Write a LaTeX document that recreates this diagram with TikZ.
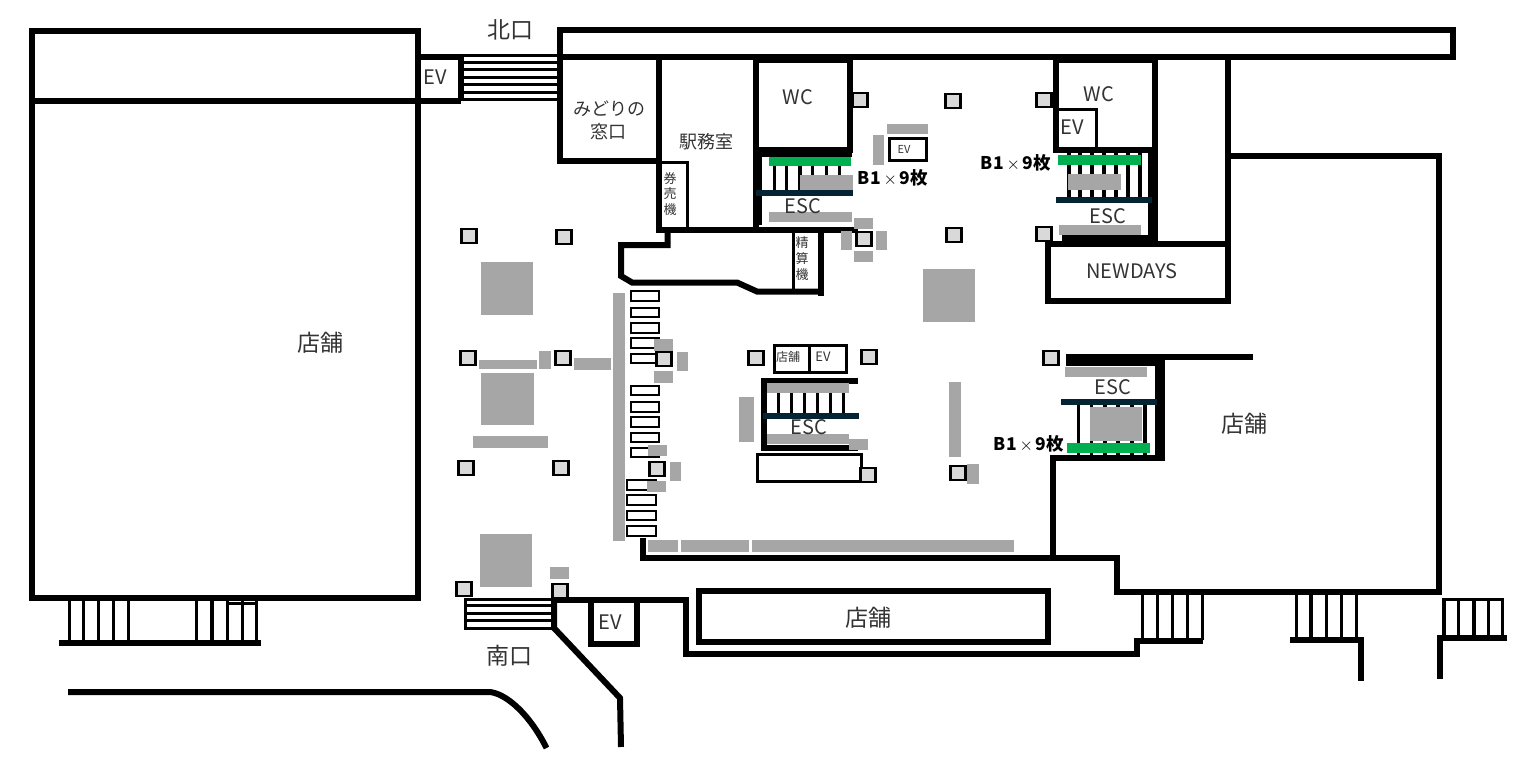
\documentclass[tikz,border=0pt]{standalone}
\usepackage{fontspec}
\setmainfont{Noto Sans CJK JP}
\definecolor{navy}{HTML}{042433}
\definecolor{greenbar}{HTML}{00B050}
\definecolor{block}{HTML}{A6A6A6}
\definecolor{pillargrey}{HTML}{D9D9D9}
\tikzset{
wall/.style={draw=black, line width=6pt},
thinwall/.style={draw=black, line width=3pt},
tread/.style={draw=black, line width=3.2pt},
greyblock/.style={fill=block},
pillar/.style={draw=black, fill=pillargrey, line width=2.7pt},
gate/.style={draw=black, fill=white, line width=2.4pt},
label/.style={text=black!80, inner sep=0pt, font=\fontsize{18}{18}\selectfont},
latinlabel/.style={label, font=\fontsize{20}{20}\selectfont},
biglabel/.style={label, font=\fontsize{23}{23}\selectfont},
tinylabel/.style={label, font=\fontsize{13}{13}\selectfont},
countlabel/.style={text=black, inner sep=0pt, font=\bfseries\fontsize{17.5}{17.5}\selectfont}
}
\begin{document}
\begin{tikzpicture}[x=1pt,y=-1pt]
\useasboundingbox (0,0) rectangle (1520,760);

% north side
\path[wall] (32,31) rectangle (418,598);
\path[wall] (32,101) -- (461,101);
\foreach \y in {55.5,62.5,70,77.5,84.7,92,99.3}{
\path[thinwall] (461,\y) -- (560,\y);
}
\path[wall] (418,57) -- (461,57) -- (461,101);
\path[wall] (560,30) rectangle (1453,57);
\path[wall] (560,57) -- (560,161) -- (659,161);
\path[wall] (659,57) -- (659,233);
\path[wall] (756,57) -- (756,230);
\path[wall] (1228,57) -- (1228,300);
\path[wall] (1228,156) -- (1438.5,156) -- (1438.5,591.5) -- (1117,591.5) -- (1117,557.5) -- (642.5,557.5) -- (642.5,538);

% ticket room
\path[thinwall] (659,162.5) -- (687.5,162.5) -- (687.5,230);
\path[wall] (657,230) -- (858,230);
\path[wall] (667.5,232) -- (667.5,245) -- (621,245) -- (621,276) -- (632,282.5) -- (737,282.5) -- (757,291.5) -- (820.5,291.5);
\path[wall] (820.5,232) -- (820.5,296);
\path[thinwall] (793,232) -- (793,291);

% WC left
\path[wall] (756,60.5) rectangle (849.5,150);
\path[fill=black] (753,147) rectangle (852,157);
\path[fill=black] (755,150) rectangle (762,225);
\foreach \x in {774.3,786.7,800,812.7,826.7,839.3}{
\path[tread] (\x,157) -- (\x,191);
}
\path[fill=greenbar] (769,157) rectangle (851,166);
\path[greyblock] (800,175) rectangle (853,190);
\path[fill=navy] (756,190) rectangle (853,196);
\path[greyblock] (769,212) rectangle (852,222);

% WC right
\path[wall] (1056,60) rectangle (1155,150);
\path[thinwall] (1056,109.5) -- (1096.5,109.5) -- (1096.5,150);
\foreach \x in {1069,1080,1092,1104,1116,1128,1140}{
\path[tread] (\x,150) -- (\x,197);
}
\path[fill=greenbar] (1058,155) rectangle (1141,165);
\path[greyblock] (1068,174) rectangle (1121,190);
\path[fill=black] (1148,150) rectangle (1158,241);
\path[fill=navy] (1056,197) rectangle (1152,203);
\path[greyblock] (1059,225) rectangle (1141,235);
\path[fill=black] (1062,235) rectangle (1152,241);
\path[wall] (1048,244) rectangle (1228,300.5);

% escalator right
\path[fill=black] (1066,354) rectangle (1160,366);
\path[wall] (1160,357) -- (1253,357);
\path[fill=black] (1155,354) rectangle (1165,460);
\path[wall] (1165,457.5) -- (1052.5,457.5) -- (1052.5,557);
\foreach \x in {1078.7,1091.7,1105,1118,1132,1145}{
\path[tread] (\x,405) -- (\x,455);
}
\path[greyblock] (1065,367) rectangle (1147,377);
\path[fill=navy] (1061,399) rectangle (1157,405);
\path[greyblock] (1090,407) rectangle (1142,441);
\path[fill=greenbar] (1067,443) rectangle (1150,453);

% escalator centre
\path[wall] (858,381) -- (764,381) -- (764,448) -- (858,448);
\foreach \x in {778.3,791.7,804.3,817.3,830.7,843.3}{
\path[tread] (\x,385) -- (\x,413);
}
\path[fill=navy] (763,413) rectangle (859,419);
\path[thinwall] (757.5,454.5) rectangle (861,481);
\path[thinwall] (774.5,345.5) rectangle (846,372);
\path[thinwall] (809.5,345.5) -- (809.5,372);
\path[thinwall] (889.5,138.5) rectangle (926.5,160);

% gates
\foreach \a/\b in {290/302,307/318,322/334,337/349,353/364,385/396,401/413,416/428,432/443,447/458}{
\path[gate] (631.2,\a+1) rectangle (659,\b-1);
}
\foreach \a/\b in {479/491,494/506,510/521,525/537}{
\path[gate] (627.2,\a+1) rectangle (656,\b-1);
}

% grey
\foreach \a/\b/\c/\d in {481/262/533/315,481/373/534/425,480/534/532/587,923/269/975/322,
479/360/537/369,539/351/551/369,574/358/611/370,473/436/548/448,613/293/625/541,
654/339/673/351,677/352/688/371,654/371/673/383,648/445/667/456,670/462/681/481,647/481/666/492,
739/397/754/442,767/383/849/393,767/434/849/444,849/439/868/450,
648/540/678/552,681/540/749/552,752/540/1014/552,967/464/979/484,949/382/961/457,
854/218/873/229,841/231/852/250,876/231/887/250,854/251/873/262,887/124/928/134,873/135/884/165,550/567/569/579}{
\path[greyblock] (\a,\b) rectangle (\c,\d);
}

% pillars
\foreach \x/\y in {860/100,953/101,1044/100,864/239,954/235,1044/234,469/236,564/237,468/358,563/358,466/468,561/468,
664/359,756/358,869/357,657/469,868/475,464/589,560/591,1051/358,958/473}{
\path[pillar] (\x-7.5,\y-7) rectangle ++(15,14);
}

% south side
\foreach \x in {69.3,83.7,98.3,113.3,128.3,196.7,212,227.7,242.7,256.7}{
\path[tread] (\x,600) -- (\x,642);
}
\path[wall] (59,642.5) -- (260.5,642.5);
\path[thinwall] (228,603) -- (258,603);
\foreach \y in {605.7,613.3,620.7,628}{
\path[thinwall] (464,\y) -- (555,\y);
}
\path[thinwall] (465.5,599) -- (465.5,629.5);
\path[thinwall] (464,599.5) -- (555,599.5);
\path[wall] (554,600) -- (554,628) -- (620,698) -- (621,747);
\path[wall] (551,600) -- (685.5,600) -- (685.5,654) -- (1137,654) -- (1137,641) -- (1203,641);
\path[wall] (591,600) -- (591,644) -- (637,644) -- (637,600);
\path[wall] (699,591) rectangle (1048,641.5);
\foreach \x in {1142.7,1157.3,1172.3,1187.7,1202.3,1296.7,1311,1326.7,1341.7,1356.7}{
\path[tread] (\x,591) -- (\x,640);
}
\path[wall] (1290,639.7) -- (1361,639.7) -- (1361,681);
\foreach \x in {1444,1458.7,1474,1488.3,1502.3}{
\path[tread] (\x,598) -- (\x,637);
}
\path[thinwall] (1442.5,599) -- (1504,599);
\path[wall] (1507,637.7) -- (1440,637.7) -- (1440,679);
\path[wall] (68,692) -- (490,692) .. controls (507,694) and (530,715) .. (546.5,748);

% labels
\node[biglabel] (kitaguchi) at (510,30) {北口};
\node[biglabel] (minamiguchi) at (509,656) {南口};
\node[biglabel] (storewest) at (320,343) {店舗};
\node[biglabel] (storeeast) at (1244,424) {店舗};
\node[biglabel] (storesouth) at (868,618) {店舗};
\node[label] (midori) at (609,109) {みどりの};
\node[label] (window) at (608,132) {窓口};
\node[label] (office) at (706,142) {駅務室};
\node[latinlabel] (wcleft) at (798,97) {WC};
\node[latinlabel] (wcright) at (1099,94) {WC};
\node[latinlabel] (evnorth) at (435,77) {EV};
\node[latinlabel] (evwc) at (1072,127) {EV};
\node[latinlabel] (evsouth) at (610,622) {EV};
\node[tinylabel, font=\fontsize{11}{11}\selectfont] (evtop) at (904,149) {EV};
\node[tinylabel] (evcentre) at (823,357) {EV};
\node[tinylabel, font=\fontsize{12}{12}\selectfont] (storecentre) at (788,357) {店舗};
\node[latinlabel] (escleft) at (803,206) {ESC};
\node[latinlabel] (escright) at (1108,216) {ESC};
\node[latinlabel] (esccentre) at (809,427) {ESC};
\node[latinlabel] (esceast) at (1113,387) {ESC};
\node[latinlabel] (newdays) at (1132,271) {NEWDAYS};
\node[countlabel] (countleft) at (893,178) {B1\,$\times$\,9枚};
\node[countlabel] (countright) at (1016,163) {B1\,$\times$\,9枚};
\node[countlabel] (counteast) at (1029,444) {B1\,$\times$\,9枚};
\node[tinylabel] (ticketa) at (670,179) {券};
\node[tinylabel] (ticketb) at (670,194) {売};
\node[tinylabel] (ticketc) at (670,210) {機};
\node[tinylabel] (fareadja) at (802,243) {精};
\node[tinylabel] (fareadjb) at (802,259) {算};
\node[tinylabel] (fareadjc) at (802,275) {機};
\end{tikzpicture}
\end{document}
